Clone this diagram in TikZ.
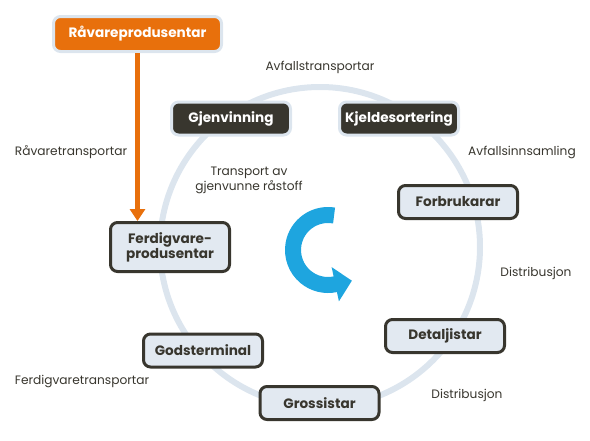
\documentclass[tikz,border=0pt]{standalone}
\usepackage{fontspec}
\setmainfont{Poppins}
\usetikzlibrary{arrows.meta}

\definecolor{oransje}{RGB}{232,112,12}
\definecolor{mork}{RGB}{56,54,46}
\definecolor{lysfyll}{RGB}{226,233,241}
\definecolor{ring}{RGB}{220,229,238}
\definecolor{blaa}{RGB}{30,165,223}

\tikzset{
  ledd/.style={draw=mork,fill=lysfyll,line width=3pt,rounded corners=7pt,
    minimum width=119pt,minimum height=33pt,align=center,inner sep=2pt,
    font=\fontsize{13.6}{15}\selectfont\bfseries,text=mork},
  morkledd/.style={ledd,draw=ring,fill=mork,text=white},
  startledd/.style={ledd,draw=ring,fill=oransje,text=white},
  etikett/.style={font=\fontsize{12.2}{15}\selectfont,text=mork,align=center,inner sep=0pt}
}

\begin{document}
\begin{tikzpicture}[x=1pt,y=1pt]
\useasboundingbox (0,0) rectangle (590,-440);

% -----------------------
% Sirkel
% -----------------------
\draw[ring,line width=6pt] (320,-247) circle[radius=160];

% -----------------------
% Ledd i kjeda
% -----------------------
\node[startledd,minimum width=168pt,minimum height=35pt] (rav) at (137.5,-34) {Råvareprodusentar};
\node[morkledd] (gjen) at (231,-118.5) {Gjenvinning};
\node[morkledd] (kjel) at (399,-118.5) {Kjeldesortering};
\node[ledd] (forb) at (458,-202) {Forbrukarar};
\node[ledd] (deta) at (445,-336) {Detaljistar};
\node[ledd] (gros) at (319.5,-403) {Grossistar};
\node[ledd] (gods) at (203,-350.5) {Godsterminal};
\node[ledd,minimum height=49pt] (ferd) at (170,-247) {Ferdigvare-\\produsentar};

% -----------------------
% Transportar
% -----------------------
\node[etikett] (l1) at (320,-67) {Avfallstransportar};
\node[etikett] (l2) at (71,-152) {Råvaretransportar};
\node[etikett] (l3) at (522,-152) {Avfallsinnsamling};
\node[etikett] (l4) at (249,-180) {Transport av\\gjenvunne råstoff};
\node[etikett] (l5) at (536,-273) {Distribusjon};
\node[etikett] (l6) at (467,-395) {Distribusjon};
\node[etikett] (l7) at (82,-381) {Ferdigvaretransportar};

% -----------------------
% Piler
% -----------------------
\draw[oransje,line width=5pt,-{Triangle[length=12pt,width=15pt]}]
  (rav.south) -- (rav.south |- ferd.north);

\coordinate (midt) at (328,-250);
\draw[blaa,line width=16pt,-{Triangle[length=17pt,width=34pt]}]
  (midt) ++(80:35) arc[start angle=80,end angle=282,radius=35] -- ++(12:17);

\end{tikzpicture}
\end{document}
